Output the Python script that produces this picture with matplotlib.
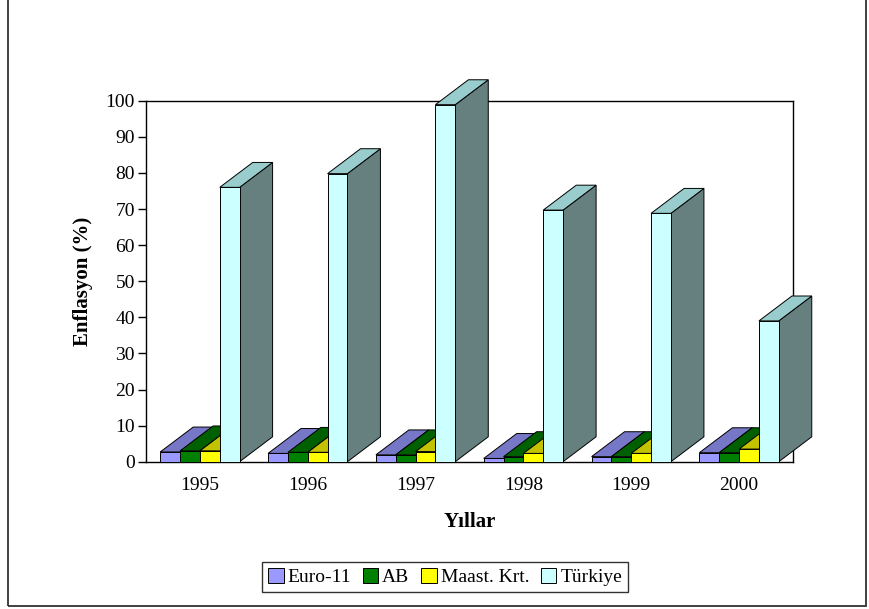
import numpy as np
import matplotlib.pyplot as plt
from matplotlib.patches import Polygon, Rectangle

plt.rcParams['font.family'] = ['Liberation Serif', 'DejaVu Serif']

years = ['1995', '1996', '1997', '1998', '1999', '2000']
euro11 = [2.7, 2.3, 1.9, 0.9, 1.4, 2.5]
ab = [3.0, 2.6, 1.9, 1.4, 1.4, 2.5]
maast = [3.0, 2.6, 2.8, 2.3, 2.3, 3.5]
turkiye = [76.0, 79.8, 98.9, 69.7, 68.8, 39.0]

series = [euro11, ab, maast, turkiye]
names = ['Euro-11', 'AB', 'Maast. Krt.', 'Türkiye']
# front / top / side colours of each series
front = ['#9999FF', '#008000', '#FFFF00', '#CCFFFF']
top = ['#7777C8', '#006000', '#C2C200', '#99CCCC']
side = ['#5F5FA0', '#004800', '#999900', '#668080']

fig = plt.figure(figsize=(8.69, 6.09), dpi=100)
ax = fig.add_axes([146/869, (609-461.7)/609, (793-146)/869, (461.7-100.7)/609])
ax.set_xlim(0, len(years))
ax.set_ylim(0, 100)

w = 0.184          # bar width (category units)
ddx, ddy = 0.306, 6.9   # depth offset of the 3d boxes
ec = 'black'
lw = 0.7

for i in range(len(years)):
    c = i + 0.5
    for k, s in enumerate(series):
        h = s[i]
        x0 = c + (k - 2) * w
        x1 = x0 + w
        sd = Polygon([(x1, 0), (x1+ddx, ddy), (x1+ddx, h+ddy), (x1, h)],
                     closed=True, fc=side[k], ec=ec, lw=lw, clip_on=False)
        tp = Polygon([(x0, h), (x1, h), (x1+ddx, h+ddy), (x0+ddx, h+ddy)],
                     closed=True, fc=top[k], ec=ec, lw=lw, clip_on=False)
        fr = Rectangle((x0, 0), w, h, fc=front[k], ec=ec, lw=lw, clip_on=False)
        ax.add_patch(sd)
        ax.add_patch(tp)
        ax.add_patch(fr)

ax.set_xticks(np.arange(len(years)) + 0.5)
ax.set_xticklabels(years, fontsize=14)
ax.tick_params(axis='x', length=0, pad=11)
ax.set_yticks(np.arange(0, 101, 10))
ax.tick_params(axis='y', length=6, width=1, pad=2, labelsize=14)
for sp in ax.spines.values():
    sp.set_linewidth(1)
    sp.set_zorder(0)

ax.set_ylabel('Enflasyon (%)', fontsize=15, fontweight='bold')
ax.yaxis.set_label_coords(-0.082, 0.5)
ax.set_xlabel('Yıllar', fontsize=15, fontweight='bold')
ax.xaxis.set_label_coords(0.5, -0.139)

handles = [Rectangle((0, 0), 1, 1, fc=front[k], ec='black', lw=0.7) for k in range(4)]
leg = fig.legend(handles, names, loc='center', bbox_to_anchor=(445/869, (609-577)/609),
                 ncol=4, fontsize=14, frameon=True, fancybox=False,
                 handlelength=0.8, handleheight=0.8, handletextpad=0.2,
                 columnspacing=0.6, borderpad=0.3)
leg.get_frame().set_edgecolor('black')
leg.get_frame().set_linewidth(1)

# outer chart border
fig.add_artist(Rectangle((8/869, 3/609), (866-8)/869, 1.0, transform=fig.transFigure,
                         fill=False, ec='#333333', lw=1.3))

fig.savefig('out.png', dpi=100)
